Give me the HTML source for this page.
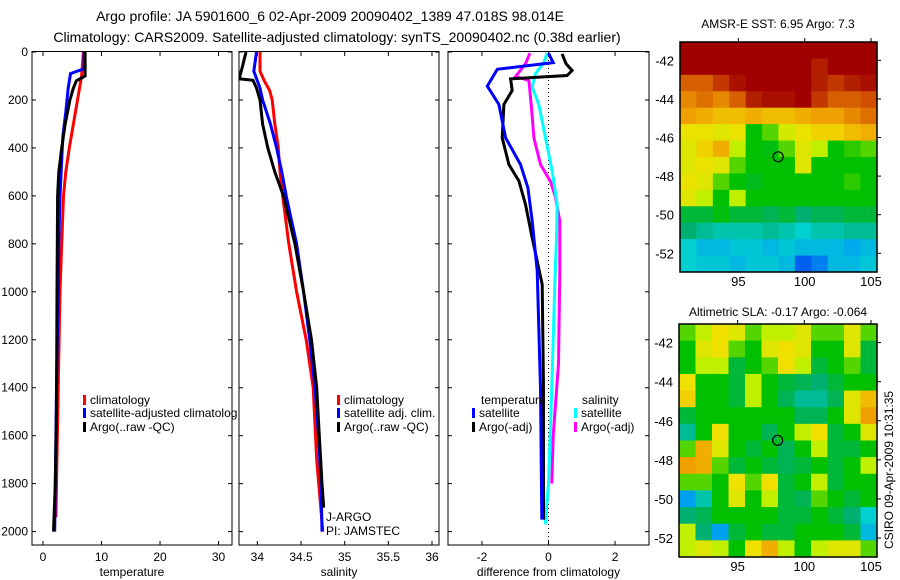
<!DOCTYPE html>
<html><head><meta charset="utf-8"><style>
html,body{margin:0;padding:0;background:#fff;}
svg{display:block;font-family:"Liberation Sans",sans-serif;}
</style></head><body>
<svg id="fig" width="900" height="580" viewBox="0 0 900 580">
<text x="330" y="21" font-size="14" text-anchor="middle">Argo profile: JA 5901600_6 02-Apr-2009 20090402_1389 47.018S 98.014E</text>
<text x="337" y="42" font-size="14" text-anchor="middle">Climatology: CARS2009. Satellite-adjusted climatology: synTS_20090402.nc (0.38d earlier)</text>
<text x="778" y="28" font-size="12" text-anchor="middle">AMSR-E SST: 6.95 Argo: 7.3</text>
<text x="778" y="316" font-size="12" text-anchor="middle">Altimetric SLA: -0.17 Argo: -0.064</text>
<text transform="translate(893,470) rotate(-90)" font-size="12" text-anchor="middle">CSIRO 09-Apr-2009 10:31:35</text>
</svg>
<script>
// ---- profile data ----
const tClimDepth=[0,100,200,300,400,500,600,800,1000,1400,1800,1940];
const tClimVal=[6.9,6.6,5.9,5.2,4.5,3.9,3.5,3.2,2.9,2.6,2.3,2.2];
const tSatDepth=[0,70,90,150,250,350,450,600,800,1000,1400,1800,2000];
const tSatVal=[7.0,7.0,4.7,4.3,3.9,3.4,3.2,2.9,2.7,2.6,2.3,2.1,2.0];
const tArgoDepth=[0,100,120,150,200,300,400,500,600,1000,1500,1800,2000];
const tArgoVal=[7.2,7.2,5.7,5.2,4.6,3.8,3.2,2.7,2.5,2.4,2.3,2.1,1.8];
const sClimDepth=[0,80,120,160,200,300,400,500,600,800,1000,1200,1400,1700,2000];
const sClimVal=[34.03,34.03,34.08,34.14,34.17,34.2,34.24,34.26,34.29,34.36,34.45,34.56,34.64,34.68,34.75];
const sSatDepth=[0,80,150,200,300,400,500,600,800,1000,1200,1400,1600,1800,2000];
const sSatVal=[33.99,33.96,34.03,34.06,34.15,34.22,34.28,34.33,34.45,34.53,34.6,34.66,34.7,34.73,34.74];
const sArgoDepth=[0,60,100,112,118,150,200,300,400,500,600,800,1000,1200,1400,1600,1800,1900];
const sArgoVal=[33.87,33.83,33.8,33.8,33.95,33.99,34.03,34.06,34.12,34.2,34.3,34.43,34.53,34.62,34.68,34.71,34.74,34.76];
const dTSatDepth=[5,44,72,142,219,358,469,566,705,913,1400,1950];
const dTSatVal=[0.0,0.14,-1.54,-1.84,-1.49,-1.29,-0.84,-0.62,-0.49,-0.34,-0.24,-0.2];
const dTArgoDepth=[8,49,77,98,105,112,160,219,358,469,538,636,775,970,1400,1950];
const dTArgoVal=[0.41,0.53,0.71,0.56,-0.34,-1.14,-1.09,-1.34,-1.39,-1.19,-0.89,-0.69,-0.49,-0.19,-0.15,-0.15];
const dSSatDepth=[5,44,90,146,219,358,497,636,775,970,1400,1800,1970];
const dSSatVal=[-0.04,-0.14,-0.39,-0.49,-0.29,-0.09,0.11,0.26,0.24,0.19,0.1,0.0,-0.1];
const dSArgoDepth=[5,49,102,119,219,358,469,540,605,705,913,1300,1600,1800];
const dSArgoVal=[-0.56,-0.69,-0.99,-0.59,-0.52,-0.44,-0.24,0.06,0.21,0.34,0.34,0.3,0.14,0.1];
const depthTicks=[0,200,400,600,800,1000,1200,1400,1600,1800,2000];
const tempTicks=[0,10,20,30];
const salTicks=[34,34.5,35,35.5,36];
const diffTicks=[-2,0,2];
// ---- map data (colour level 0..1) ----
const sstGrid=[
[.95,.95,.95,.95,.95,.95,.95,.95,.95,.95,.95,.95],
[.93,.93,.93,.93,.93,.93,.93,.93,.88,.93,.93,.93],
[.8,.8,.85,.9,.93,.93,.93,.93,.88,.85,.88,.9],
[.75,.78,.75,.8,.88,.9,.9,.93,.85,.8,.8,.82],
[.72,.7,.68,.68,.7,.68,.68,.7,.72,.72,.75,.78],
[.62,.62,.6,.62,.46,.5,.58,.62,.65,.65,.68,.7],
[.6,.65,.7,.55,.46,.45,.5,.6,.55,.46,.48,.5],
[.6,.62,.6,.5,.46,.46,.46,.6,.46,.46,.46,.46],
[.62,.6,.5,.46,.44,.46,.46,.46,.46,.46,.48,.46],
[.6,.55,.46,.55,.46,.46,.46,.46,.46,.46,.46,.46],
[.42,.42,.45,.42,.42,.4,.42,.38,.4,.4,.42,.42],
[.38,.35,.33,.33,.33,.35,.33,.3,.33,.33,.35,.35],
[.3,.25,.25,.28,.28,.25,.28,.25,.25,.25,.22,.25],
[.3,.28,.28,.25,.28,.28,.25,.1,.15,.25,.25,.28]];
const slaGrid=[
[.5,.55,.63,.6,.5,.55,.55,.6,.5,.5,.6,.5],
[.46,.6,.63,.5,.46,.6,.63,.6,.46,.46,.6,.42],
[.46,.55,.55,.42,.46,.5,.63,.55,.42,.46,.5,.42],
[.63,.46,.46,.42,.55,.46,.42,.4,.38,.42,.46,.46],
[.65,.46,.46,.42,.55,.46,.4,.35,.35,.4,.6,.68],
[.42,.46,.46,.46,.46,.46,.46,.4,.4,.46,.6,.72],
[.35,.46,.63,.46,.46,.4,.46,.55,.63,.42,.46,.6],
[.5,.7,.6,.46,.42,.46,.4,.46,.55,.42,.42,.46],
[.72,.7,.5,.42,.46,.42,.4,.42,.46,.42,.46,.55],
[.5,.5,.46,.63,.5,.63,.42,.46,.55,.42,.46,.46],
[.2,.33,.46,.6,.46,.55,.42,.4,.5,.46,.42,.46],
[.38,.4,.46,.46,.46,.46,.42,.42,.46,.42,.38,.3],
[.55,.38,.2,.42,.46,.42,.42,.46,.46,.46,.42,.25],
[.55,.6,.55,.46,.63,.7,.55,.46,.55,.6,.6,.5]];
const latTicks=[-42,-44,-46,-48,-50,-52];
const lonTicks=[95,100,105];
const floatLon=[98.0], floatLat=[-47.0];

const NS='http://www.w3.org/2000/svg';
const svg=document.getElementById('fig');
function mk(tag,attrs,parent){const e=document.createElementNS(NS,tag);for(const k in attrs)e.setAttribute(k,attrs[k]);(parent||svg).appendChild(e);return e;}
function txt(x,y,s,anchor,size){const t=mk('text',{x:x,y:y,'font-size':size||12,'text-anchor':anchor||'start'});t.textContent=s;return t;}

const yTop=52, yBot=545, dMax=(545-52)/0.2398;
function yD(d){return yTop+d*(yBot-yTop)/dMax;}

function panel(name,x0,x1,vmin,vmax,ticks,tickFmt,xlabel,showDepth){
  const sx=v=>x0+(v-vmin)/(vmax-vmin)*(x1-x0);
  const box=mk('rect',{x:x0,y:yTop-0.5,width:x1-x0,height:yBot-yTop+0.5,fill:'none',stroke:'#000','stroke-width':1});
  
  
  depthTicks.forEach(d=>{const y=yD(d);
    mk('line',{x1:x0,y1:y,x2:x0+4,y2:y,stroke:'#000'});mk('line',{x1:x1,y1:y,x2:x1-4,y2:y,stroke:'#000'});
    if(showDepth){const t=txt(x0-4,y+4,String(d),'end');}});
  ticks.forEach(v=>{const x=sx(v);
    mk('line',{x1:x,y1:yBot,x2:x,y2:yBot-4,stroke:'#000'});mk('line',{x1:x,y1:yTop,x2:x,y2:yTop+4,stroke:'#000'});
    const t=txt(x,yBot+16,tickFmt(v),'middle');});
  const xl=txt((x0+x1)/2,yBot+31,xlabel,'middle');
  
  
  return sx;
}
function series(sx,depths,vals,color,name){
  const pts=depths.map((d,i)=>{const x=sx(vals[i]).toFixed(1);return x+','+yD(d).toFixed(1);}).join(' ');
  const p=mk('polyline',{points:pts,fill:'none',stroke:color,'stroke-width':3,'stroke-linejoin':'miter'});
  
  
}
function legend(x,y,color,label,name){
  const r=mk('rect',{x:x,y:y-9,width:3,height:10,fill:color});
  
  
  const t=txt(x+7,y,label);
  
  
}

// temperature panel
const sxT=panel('temperature',32,232,-1.88,32.3,tempTicks,String,'temperature',true);
series(sxT,tClimDepth,tClimVal,'#ff0000','temp-climatology-line');
series(sxT,tSatDepth,tSatVal,'#0000ff','temp-satellite-line');
series(sxT,tArgoDepth,tArgoVal,'#000000','temp-argo-line');
legend(83,404,'#ff0000','climatology','temp-legend-climatology');
legend(83,417,'#0000ff','satellite-adjusted climatolog','temp-legend-satellite');
legend(83,431,'#000000','Argo(..raw -QC)','temp-legend-argo');

// salinity panel
const sxS=panel('salinity',239,439,33.79,36.08,salTicks,String,'salinity',false);
series(sxS,sClimDepth,sClimVal,'#ff0000','sal-climatology-line');
series(sxS,sSatDepth,sSatVal,'#0000ff','sal-satellite-line');
series(sxS,sArgoDepth,sArgoVal,'#000000','sal-argo-line');
legend(337,404,'#ff0000','climatology','sal-legend-climatology');
legend(337,417,'#0000ff','satellite adj. clim.','sal-legend-satellite');
legend(337,431,'#000000','Argo(..raw -QC)','sal-legend-argo');
txt(326,521,'J-ARGO');
txt(326,535,'PI: JAMSTEC');

// difference panel
const sxD=panel('difference',448,649,-3.02,3.02,diffTicks,String,'difference from climatology',false);
mk('line',{x1:sxD(0),y1:yTop,x2:sxD(0),y2:yBot,stroke:'#000','stroke-dasharray':'1,3'});
series(sxD,dSArgoDepth,dSArgoVal,'#ff00ff','diff-sal-argo-line');
series(sxD,dSSatDepth,dSSatVal,'#00ffff','diff-sal-satellite-line');
series(sxD,dTArgoDepth,dTArgoVal,'#000000','diff-temp-argo-line');
series(sxD,dTSatDepth,dTSatVal,'#0000ff','diff-temp-satellite-line');
txt(481,404,'temperature');
legend(472,417,'#0000ff','satellite','diff-legend-temp-satellite');
legend(472,431,'#000000','Argo(-adj)','diff-legend-temp-argo');
txt(582,404,'salinity');
legend(574,417,'#00ffff','satellite','diff-legend-sal-satellite');
legend(574,431,'#ff00ff','Argo(-adj)','diff-legend-sal-argo');

// colour map
const stops=[[0,[0,32,160]],[.1,[0,96,240]],[.2,[0,160,240]],[.3,[0,208,208]],[.38,[0,176,112]],[.46,[0,192,0]],[.55,[192,240,0]],[.63,[240,224,0]],[.72,[240,160,0]],[.82,[208,80,0]],[.92,[160,0,0]],[1,[160,0,0]]];
function cmap(v){for(let i=1;i<stops.length;i++){if(v<=stops[i][0]){const a=stops[i-1],b=stops[i],f=(v-a[0])/(b[0]-a[0]);
  return 'rgb('+a[1].map((c,k)=>Math.round(c+(b[1][k]-c)*f)).join(',')+')';}}return 'rgb(160,0,0)';}

function map(name,grid,x0,x1,y0,y1){
  const lon0=90.6,lon1=105.45,lat0=-41.05,lat1=-52.97;
  const sx=v=>x0+(v-lon0)/(lon1-lon0)*(x1-x0);
  const sy=v=>y0+(v-lat0)/(lat1-lat0)*(y1-y0);
  const rows=grid.length,cols=grid[0].length;
  const dLon=(lon1-lon0)/cols,dLat=(lat1-lat0)/rows;
  grid.forEach((row,r)=>row.forEach((v,c)=>{
    const xa=sx(lon0+c*dLon),xb=sx(lon0+(c+1)*dLon),ya=sy(lat0+r*dLat),yb=sy(lat0+(r+1)*dLat);
    const cell=mk('rect',{x:xa.toFixed(2),y:ya.toFixed(2),width:(xb-xa+0.6).toFixed(2),height:(yb-ya+0.6).toFixed(2),fill:cmap(v)});
    
    
  }));
  const b=mk('rect',{x:x0,y:y0,width:x1-x0,height:y1-y0,fill:'none',stroke:'#000','stroke-width':1.5});
  
  
  latTicks.forEach(l=>{const y=sy(l);mk('line',{x1:x1,y1:y,x2:x1+4,y2:y,stroke:'#000'});
    const t=txt(x0-6,y+5,String(l),'end',13);});
  lonTicks.forEach(l=>{const x=sx(l);mk('line',{x1:x,y1:y0,x2:x,y2:y0-4,stroke:'#000'});
    const t=txt(x,y1+14,String(l),'middle',13);});
  const m=mk('circle',{cx:sx(floatLon[0]),cy:sy(floatLat[0]),r:5,fill:'none',stroke:'#000','stroke-width':1.2});
  
  
}
map('sst-map',sstGrid,680,877,42,272);
map('sla-map',slaGrid,679,877,324,557);
</script>
</body></html>
